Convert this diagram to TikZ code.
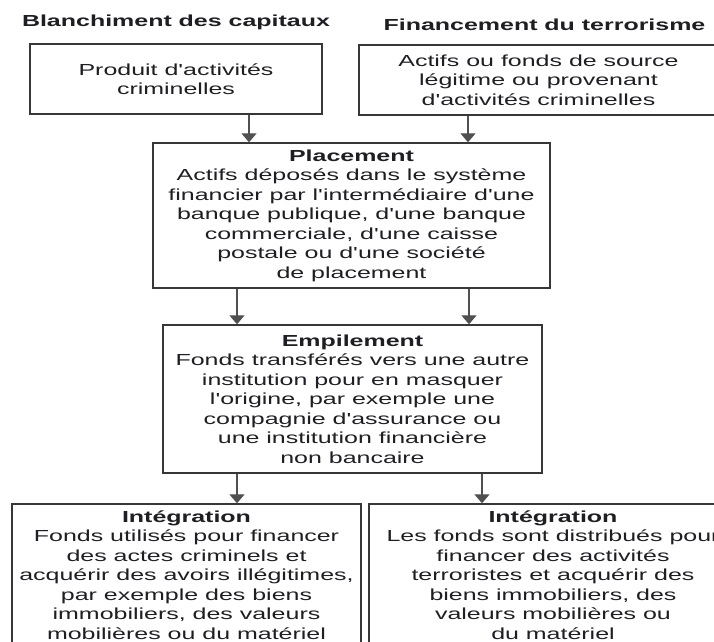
\documentclass[tikz,border=0pt]{standalone}
\usepackage{fontspec}
\setmainfont[FakeStretch=1.56, Ligatures=TeXOff]{Liberation Sans}
\usetikzlibrary{arrows.meta,positioning}
\definecolor{boxLine}{RGB}{55,55,55}
\definecolor{arrLine}{RGB}{80,80,80}
\definecolor{txtDark}{RGB}{30,30,35}

\begin{document}
\begin{tikzpicture}[
  x=1pt, y=-1pt,
  font=\fontsize{16}{19.5}\selectfont,
  text=txtDark,
  stage/.style = {rectangle, draw=boxLine, line width=1.4pt,
                  align=center, inner sep=0pt},
  head/.style  = {inner sep=0pt, font=\fontsize{16}{19.5}\selectfont\bfseries},
  flow/.style  = {-{Triangle[width=15pt,length=9pt]}, draw=arrLine, line width=1.3pt}
]
\useasboundingbox (0,0) rectangle (714,641);

% Sources (top row)
\node[stage, minimum width=292pt, minimum height=70pt] (prod) at (176,79)
  {Produit d'activités\\criminelles};
\node[stage, minimum width=359pt, minimum height=70pt] (actifs) at (538.5,80)
  {Actifs ou fonds de source\\légitime ou provenant\\d'activités criminelles};

% Column titles
\node[head, above=13pt of prod] (hBlanch) {Blanchiment des capitaux};
\node[head, above=13pt of actifs, xshift=6pt] (hFin) {Financement du terrorisme};

% Shared stages
\node[stage, minimum width=397pt, minimum height=145pt] (plac) at (351.5,215.5)
  {\textbf{Placement}\\Actifs déposés dans le système\\financier par l'intermédiaire d'une\\banque publique, d'une banque\\commerciale, d'une caisse\\postale ou d'une société\\de placement};
\node[stage, minimum width=379pt, minimum height=148pt] (empil) at (352.5,399)
  {\textbf{Empilement}\\Fonds transférés vers une autre\\institution pour en masquer\\l'origine, par exemple une\\compagnie d'assurance ou\\une institution financière\\non bancaire};

% Outcomes (bottom row, cut by the page edge)
\node[stage, minimum width=349pt, minimum height=142pt] (integL) at (186.5,575)
  {\textbf{Intégration}\\Fonds utilisés pour financer\\des actes criminels et\\acquérir des avoirs illégitimes,\\par exemple des biens\\immobiliers, des valeurs\\mobilières ou du matériel};
\node[stage, minimum width=368pt, minimum height=142pt] (integR) at (553,575)
  {\textbf{Intégration}\\Les fonds sont distribués pour\\financer des activités\\terroristes et acquérir des\\biens immobiliers, des\\valeurs mobilières ou\\du matériel};

% x positions of the arrows
\coordinate (colA) at (249,0);
\coordinate (colB) at (468,0);
\coordinate (colC) at (237,0);
\coordinate (colD) at (469,0);
\coordinate (colE) at (482,0);

\draw[flow] (prod.south -| colA) -- (plac.north -| colA);
\draw[flow] (actifs.south -| colB) -- (plac.north -| colB);
\draw[flow] (plac.south -| colC) -- (empil.north -| colC);
\draw[flow] (plac.south -| colD) -- (empil.north -| colD);
\draw[flow] (empil.south -| colC) -- (integL.north -| colC);
\draw[flow] (empil.south -| colE) -- (integR.north -| colE);

\end{tikzpicture}
\end{document}
